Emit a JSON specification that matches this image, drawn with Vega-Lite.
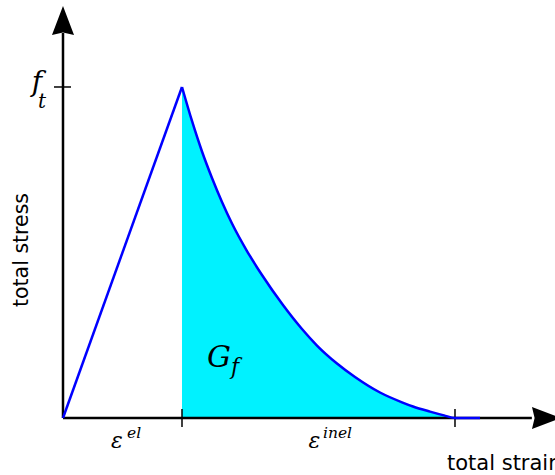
{
  "$schema": "https://vega.github.io/schema/vega-lite/v6.json",
  "width": 555,
  "height": 475,
  "padding": 0,
  "autosize": {"type": "none"},
  "background": "white",
  "config": {"view": {"stroke": null}},
  "datasets": {
    "rise": [
      {"strain": 0, "stress": 0},
      {"strain": 1, "stress": 1}
    ],
    "softening": [
      {"strain": 1.0, "stress": 1.0},
      {"strain": 1.084, "stress": 0.8973},
      {"strain": 1.1681, "stress": 0.8051},
      {"strain": 1.2521, "stress": 0.7251},
      {"strain": 1.3361, "stress": 0.6526},
      {"strain": 1.4202, "stress": 0.5876},
      {"strain": 1.5462, "stress": 0.5045},
      {"strain": 1.6723, "stress": 0.432},
      {"strain": 1.8487, "stress": 0.3414},
      {"strain": 2.0084, "stress": 0.2689},
      {"strain": 2.1345, "stress": 0.219},
      {"strain": 2.3025, "stress": 0.1647},
      {"strain": 2.4538, "stress": 0.1239},
      {"strain": 2.6639, "stress": 0.077},
      {"strain": 2.8487, "stress": 0.0474},
      {"strain": 2.9412, "stress": 0.0347},
      {"strain": 3.084, "stress": 0.0193},
      {"strain": 3.2017, "stress": 0.0079},
      {"strain": 3.2941, "stress": 0},
      {"strain": 3.5042, "stress": 0}
    ],
    "axisLines": [
      {"strain": 0, "stress": 0, "strain2": 3.94, "stress2": 0},
      {"strain": 0, "stress": 0, "strain2": 0, "stress2": 1.163}
    ],
    "ticks": [
      {"strain": -0.0756, "stress": 1, "strain2": 0.0672, "stress2": 1},
      {"strain": 1, "stress": -0.0272, "strain2": 1, "stress2": 0.0272},
      {"strain": 3.2941, "stress": -0.0272, "strain2": 3.2941, "stress2": 0.0272}
    ]
  },
  "encoding": {
    "x": {
      "field": "strain",
      "type": "quantitative",
      "scale": {"domain": [-0.5294, 4.1345], "nice": false, "zero": false},
      "axis": null
    },
    "y": {
      "field": "stress",
      "type": "quantitative",
      "scale": {"domain": [-0.1722, 1.2628], "nice": false, "zero": false},
      "axis": null
    }
  },
  "layer": [
    {
      "data": {"name": "softening"},
      "transform": [{"filter": "datum.strain <= 3.2941"}],
      "mark": {"type": "area", "color": "#00f2ff", "interpolate": "monotone", "opacity": 1},
      "encoding": {"y2": {"datum": 0}}
    },
    {
      "data": {"name": "axisLines"},
      "mark": {"type": "rule", "color": "black", "strokeWidth": 2.5},
      "encoding": {"x2": {"field": "strain2"}, "y2": {"field": "stress2"}}
    },
    {
      "data": {"name": "ticks"},
      "mark": {"type": "rule", "color": "black", "strokeWidth": 1.5},
      "encoding": {"x2": {"field": "strain2"}, "y2": {"field": "stress2"}}
    },
    {
      "data": {"name": "rise"},
      "mark": {"type": "line", "color": "#0000ff", "strokeWidth": 2.5}
    },
    {
      "data": {"name": "softening"},
      "mark": {"type": "line", "color": "#0000ff", "strokeWidth": 2.5, "interpolate": "monotone"}
    },
    {
      "data": {"values": [{"strain": 0, "stress": 1.2009}]},
      "mark": {
        "type": "point",
        "shape": "M0,-1L0.76,1L0,0.82L-0.76,1Z",
        "size": 841,
        "filled": true,
        "color": "black",
        "opacity": 1,
        "strokeWidth": 0
      }
    },
    {
      "data": {"values": [{"strain": 4.063, "stress": 0}]},
      "mark": {
        "type": "point",
        "shape": "M1,0L-1,0.76L-0.82,0L-1,-0.76Z",
        "size": 841,
        "filled": true,
        "color": "black",
        "opacity": 1,
        "strokeWidth": 0
      }
    },
    {
      "data": {"values": [{"strain": -0.3445, "stress": 0.5076, "label": "total stress"}]},
      "mark": {"type": "text", "font": "DejaVu Sans", "fontSize": 20.5, "angle": 270, "align": "center", "baseline": "middle", "color": "black"},
      "encoding": {"text": {"field": "label"}}
    },
    {
      "data": {"values": [{"strain": 3.2269, "stress": -0.1571, "label": "total strain"}]},
      "mark": {"type": "text", "font": "DejaVu Sans", "fontSize": 21, "align": "left", "baseline": "alphabetic", "color": "black"},
      "encoding": {"text": {"field": "label"}}
    },
    {
      "data": {"values": [{"strain": -0.2185, "stress": 0.9879, "label": "f"}]},
      "mark": {"type": "text", "font": "DejaVu Serif", "fontStyle": "italic", "fontSize": 28, "align": "center", "baseline": "alphabetic", "color": "black"},
      "encoding": {"text": {"field": "label"}}
    },
    {
      "data": {"values": [{"strain": -0.2101, "stress": 0.9366, "label": "t"}]},
      "mark": {"type": "text", "font": "DejaVu Serif", "fontStyle": "italic", "fontSize": 20, "align": "left", "baseline": "alphabetic", "color": "black"},
      "encoding": {"text": {"field": "label"}}
    },
    {
      "data": {"values": [{"strain": 1.2101, "stress": 0.1541, "label": "G"}]},
      "mark": {"type": "text", "font": "DejaVu Serif", "fontStyle": "italic", "fontSize": 30, "align": "left", "baseline": "alphabetic", "color": "black"},
      "encoding": {"text": {"field": "label"}}
    },
    {
      "data": {"values": [{"strain": 1.4118, "stress": 0.1329, "label": "f"}]},
      "mark": {"type": "text", "font": "DejaVu Serif", "fontStyle": "italic", "fontSize": 22, "align": "left", "baseline": "alphabetic", "color": "black"},
      "encoding": {"text": {"field": "label"}}
    },
    {
      "data": {"values": [
        {"strain": 0.4538, "stress": -0.0906, "label": "ε"},
        {"strain": 2.1134, "stress": -0.0906, "label": "ε"}
      ]},
      "mark": {"type": "text", "font": "DejaVu Serif", "fontStyle": "italic", "fontSize": 22, "align": "center", "baseline": "alphabetic", "color": "black"},
      "encoding": {"text": {"field": "label"}}
    },
    {
      "data": {"values": [
        {"strain": 0.5378, "stress": -0.0604, "label": "el"},
        {"strain": 2.1849, "stress": -0.0604, "label": "inel"}
      ]},
      "mark": {"type": "text", "font": "DejaVu Serif", "fontStyle": "italic", "fontSize": 15.5, "align": "left", "baseline": "alphabetic", "color": "black"},
      "encoding": {"text": {"field": "label"}}
    }
  ]
}
